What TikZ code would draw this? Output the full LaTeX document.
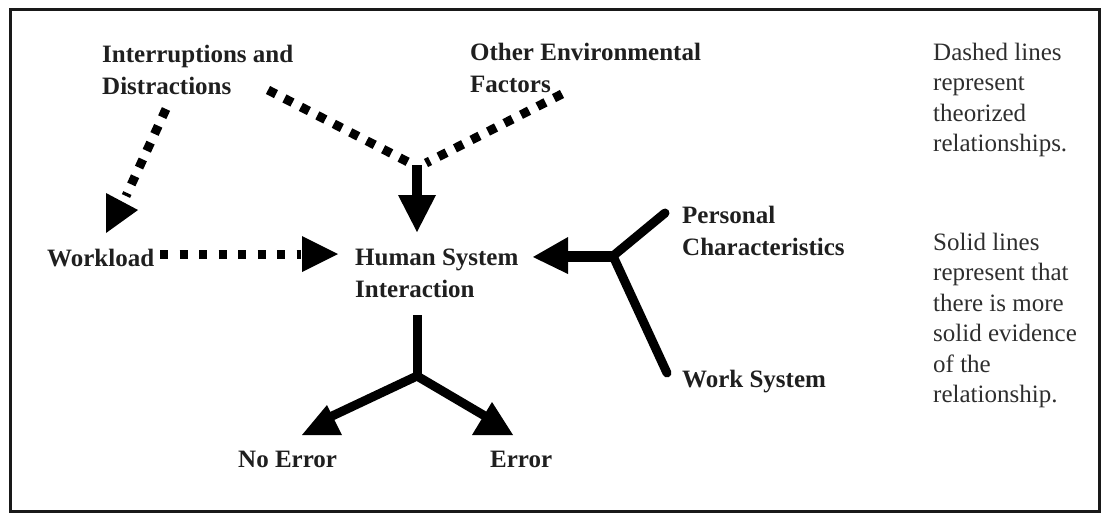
\documentclass[tikz,border=0pt]{standalone}
\usepackage{fontspec}
\setmainfont{Liberation Serif}
\begin{document}
\begin{tikzpicture}[x=1pt,y=-1pt,
  lbl/.style={anchor=base west, inner sep=0pt, text=black!88,
    font=\fontsize{25}{32}\selectfont\bfseries},
  note/.style={anchor=base west, inner sep=0pt, text=black!82,
    font=\fontsize{25}{30.5}\selectfont},
  theory/.style={line width=9pt, dash pattern=on 9pt off 9.5pt},
  theoryh/.style={line width=9pt, dash pattern=on 8pt off 11.5pt},
  evidence/.style={line width=9pt},
  tip/.style={fill=black},
]
\useasboundingbox (0,0) rectangle (1102,515);
% outer frame
\draw[line width=3pt, black!90] (10,9) rectangle (1099,511);

% labels
\node[lbl] (intr) at (102,62)
  {\begin{tabular}[t]{@{}l@{}}Interruptions and\\Distractions\end{tabular}};
\node[lbl] (other) at (470,60)
  {\begin{tabular}[t]{@{}l@{}}Other Environmental\\Factors\end{tabular}};
\node[lbl] (work) at (47,266) {Workload};
\node[lbl] (hsi) at (355,265)
  {\begin{tabular}[t]{@{}l@{}}Human System\\Interaction\end{tabular}};
\node[lbl] (pers) at (682,223)
  {\begin{tabular}[t]{@{}l@{}}Personal\\Characteristics\end{tabular}};
\node[lbl] (wsys) at (682,387) {Work System};
\node[lbl] (noerr) at (238,467) {No Error};
\node[lbl] (err) at (490,467) {Error};

% legend
\node[note] (dashnote) at (933,60)
  {\begin{tabular}[t]{@{}l@{}}Dashed lines\\represent\\theorized\\relationships.\end{tabular}};
\node[note] (solidnote) at (933,250)
  {\begin{tabular}[t]{@{}l@{}}Solid lines\\represent that\\there is more\\solid evidence\\of the\\relationship.\end{tabular}};

% connector end points
\coordinate (intrA) at (166,109);
\coordinate (workIn) at (126,196);
\coordinate (intrB) at (268,90);
\coordinate (otherA) at (562,94);
\coordinate (joinL) at (408,162);
\coordinate (joinR) at (426,163);
\coordinate (stemTop) at (417,165);
\coordinate (stemEnd) at (417,197);
\coordinate (workOut) at (160,254);
\coordinate (hsiInL) at (301,254);
\coordinate (persEnd) at (665,213);
\coordinate (wsysEnd) at (667,373);
\coordinate (pj) at (613,256);
\coordinate (pjStem) at (566,256);
\coordinate (hsiOut) at (417,315);
\coordinate (fork) at (417,376);
\coordinate (noerrIn) at (330,417);
\coordinate (errIn) at (490,419);

% theorized relationships
\draw[theory] (intrA) -- (workIn);
\fill[tip] (106,193) -- (106,233) -- (138,210) -- cycle;
\draw[theory] (intrB) -- (joinL);
\draw[theory] (otherA) -- (joinR);
\draw[evidence, line width=10pt] (stemTop) -- (stemEnd);
\fill[tip] (398,195) -- (436,195) -- (417,232) -- cycle;
\draw[theoryh] (workOut) -- (hsiInL);
\fill[tip] (302,236) -- (302,272) -- (338,254) -- cycle;

% solid relationships
\draw[evidence, line cap=round] (persEnd) -- (pj);
\draw[evidence, line cap=round] (wsysEnd) -- (pj);
\draw[evidence, line width=11pt] (pj) -- (pjStem);
\fill[tip] (533,257) -- (568,237) -- (568,274) -- cycle;
\draw[evidence] (hsiOut) -- (fork);
\draw[evidence, line cap=round, line join=round] (noerrIn) -- (fork) -- (errIn);
\fill[tip] (302,435) -- (342,435) -- (327,405) -- cycle;
\fill[tip] (472,435) -- (513,435) -- (492,402) -- cycle;
\end{tikzpicture}
\end{document}
